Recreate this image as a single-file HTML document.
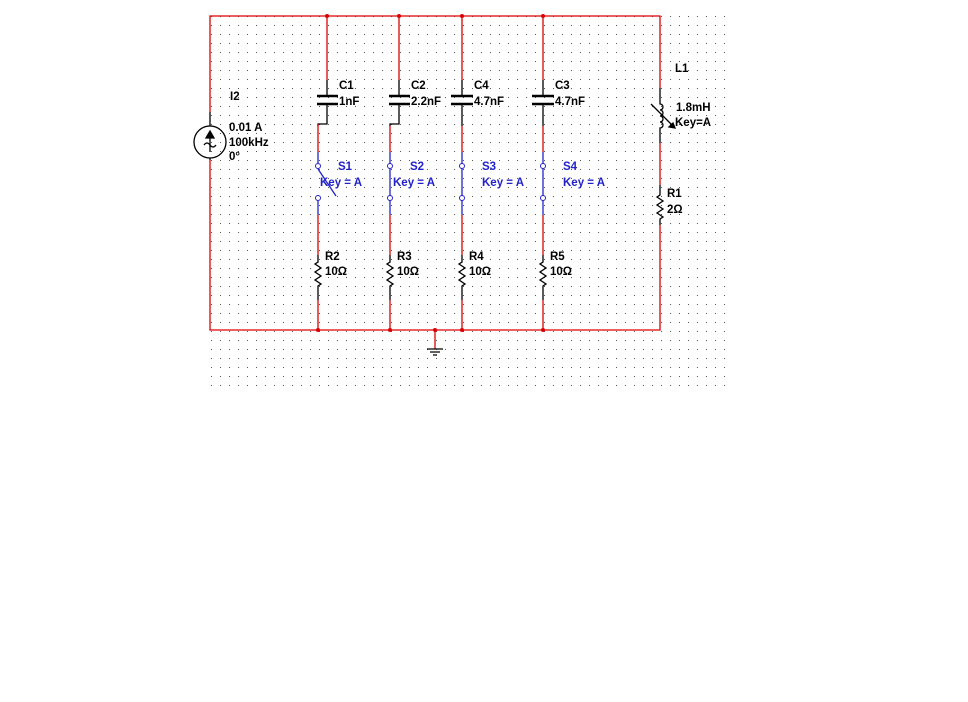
<!DOCTYPE html>
<html><head><style>
html,body{margin:0;padding:0;background:#fff;}
svg{display:block;}
text{font-family:"Liberation Sans",Arial,sans-serif;font-size:11.5px;font-weight:bold;}
</style></head><body>
<svg width="968" height="702" viewBox="0 0 968 702" xmlns="http://www.w3.org/2000/svg">
<defs>
<pattern id="g" x="4" y="7" width="9" height="9" patternUnits="userSpaceOnUse">
<rect x="0" y="0" width="1" height="1" fill="#555"/>
</pattern>
</defs>
<rect x="210" y="16" width="516" height="373" fill="url(#g)"/>
<g fill="none" stroke-width="1.3">
<!-- outer red -->
<path d="M210 112 V16 H660 V88" stroke="#d00"/>
<path d="M210 160 V330 H660 V225" stroke="#d00"/>
<!-- current source -->
<path d="M210 112 V126 M210 158 V160" stroke="#000"/>
<circle cx="210" cy="142" r="16" stroke="#000"/>
<path d="M210 152 V132" stroke="#000"/>
<path d="M206 138 L210 131 L214 138 Z" fill="#000" stroke="#000"/>
<path d="M204 145 q3 -4 6 0 q3 4 6 0" stroke="#000"/>
<!-- branch 1 -->
<path d="M327 16 V80" stroke="#d00"/>
<path d="M327 80 V96 M327 104 V124 H318 V126" stroke="#000"/>
<path d="M317 96 H338 M317 104 H338" stroke="#000" stroke-width="2.4"/>
<path d="M318 124 V152" stroke="#d00"/>
<path d="M318 152 V163 M318 201 V215" stroke="#22c"/>
<path d="M318 169 L336 196" stroke="#22c"/>
<path d="M318 215 V255" stroke="#d00"/>
<!-- branch 2 -->
<path d="M399 16 V80" stroke="#d00"/>
<path d="M399 80 V96 M399 104 V124 H390 V126" stroke="#000"/>
<path d="M389 96 H410 M389 104 H410" stroke="#000" stroke-width="2.4"/>
<path d="M390 126 V152" stroke="#d00"/>
<path d="M390 152 V215" stroke="#22c"/>
<path d="M390 215 V255" stroke="#d00"/>
<!-- branch 3 -->
<path d="M462 16 V80" stroke="#d00"/>
<path d="M462 80 V96 M462 104 V126" stroke="#000"/>
<path d="M451 96 H473 M451 104 H473" stroke="#000" stroke-width="2.4"/>
<path d="M462 126 V152" stroke="#d00"/>
<path d="M462 152 V215" stroke="#22c"/>
<path d="M462 215 V255" stroke="#d00"/>
<!-- branch 4 -->
<path d="M543 16 V80" stroke="#d00"/>
<path d="M543 80 V96 M543 104 V126" stroke="#000"/>
<path d="M532 96 H554 M532 104 H554" stroke="#000" stroke-width="2.4"/>
<path d="M543 126 V152" stroke="#d00"/>
<path d="M543 152 V215" stroke="#22c"/>
<path d="M543 215 V255" stroke="#d00"/>
<!-- resistors bottom -->
<g stroke="#000">
<path d="M318 255 V262 l-3 2 6 4 -6 4 6 4 -6 4 6 4 -3 2 V300"/>
<path d="M390 255 V262 l-3 2 6 4 -6 4 6 4 -6 4 6 4 -3 2 V300"/>
<path d="M462 255 V262 l-3 2 6 4 -6 4 6 4 -6 4 6 4 -3 2 V300"/>
<path d="M543 255 V262 l-3 2 6 4 -6 4 6 4 -6 4 6 4 -3 2 V300"/>
</g>
<path d="M318 300 V330 M390 300 V330 M462 300 V330 M543 300 V330" stroke="#d00"/>
<!-- L1 -->
<path d="M660 88 V104 a3 3 0 0 1 0 6 a3 3 0 0 1 0 6 a3 3 0 0 1 0 6 a3 3 0 0 1 0 6 V143" stroke="#000"/>
<path d="M660 143 V185" stroke="#d00"/>
<path d="M651 104 L675 128" stroke="#000"/>
<path d="M675 128 l-6 -1 4 -4 Z" fill="#000" stroke="#000"/>
<!-- R1 -->
<path d="M660 185 V195 l-3 2 6 4 -6 4 6 4 -6 4 6 4 -3 2 V225" stroke="#000"/>
<!-- ground -->
<path d="M435 330 V349" stroke="#d00"/>
<path d="M427 349 H443 M430 352 H440 M433 355 H437" stroke="#000"/>
</g>
<!-- switch contacts -->
<g fill="#fff" stroke="#22c" stroke-width="1">
<circle cx="318" cy="166" r="2.5"/><circle cx="318" cy="198" r="2.5"/>
<circle cx="390" cy="166" r="2.5"/><circle cx="390" cy="198" r="2.5"/>
<circle cx="462" cy="166" r="2.5"/><circle cx="462" cy="198" r="2.5"/>
<circle cx="543" cy="166" r="2.5"/><circle cx="543" cy="198" r="2.5"/>
</g>
<!-- junction dots -->
<g fill="#d00">
<circle cx="327" cy="16" r="2"/><circle cx="399" cy="16" r="2"/><circle cx="462" cy="16" r="2"/><circle cx="543" cy="16" r="2"/>
<circle cx="318" cy="330" r="2"/><circle cx="390" cy="330" r="2"/><circle cx="435" cy="330" r="2"/><circle cx="462" cy="330" r="2"/><circle cx="543" cy="330" r="2"/>
</g>
<!-- labels -->
<g fill="#000">
<text x="230" y="100">I2</text>
<text x="229" y="131">0.01 A</text>
<text x="229" y="146">100kHz</text>
<text x="229" y="160">0°</text>
<text x="339" y="89">C1</text><text x="339" y="105">1nF</text>
<text x="411" y="89">C2</text><text x="411" y="105">2.2nF</text>
<text x="474" y="89">C4</text><text x="474" y="105">4.7nF</text>
<text x="555" y="89">C3</text><text x="555" y="105">4.7nF</text>
<text x="675" y="72">L1</text>
<text x="676" y="111">1.8mH</text>
<text x="675" y="126">Key=A</text>
<text x="667" y="197">R1</text><text x="667" y="213">2Ω</text>
<text x="325" y="260">R2</text><text x="325" y="275">10Ω</text>
<text x="397" y="260">R3</text><text x="397" y="275">10Ω</text>
<text x="469" y="260">R4</text><text x="469" y="275">10Ω</text>
<text x="550" y="260">R5</text><text x="550" y="275">10Ω</text>
</g>
<g fill="#22c">
<text x="338" y="170">S1</text><text x="320" y="186">Key = A</text>
<text x="410" y="170">S2</text><text x="393" y="186">Key = A</text>
<text x="482" y="170">S3</text><text x="482" y="186">Key = A</text>
<text x="563" y="170">S4</text><text x="563" y="186">Key = A</text>
</g>
</svg>
</body></html>
